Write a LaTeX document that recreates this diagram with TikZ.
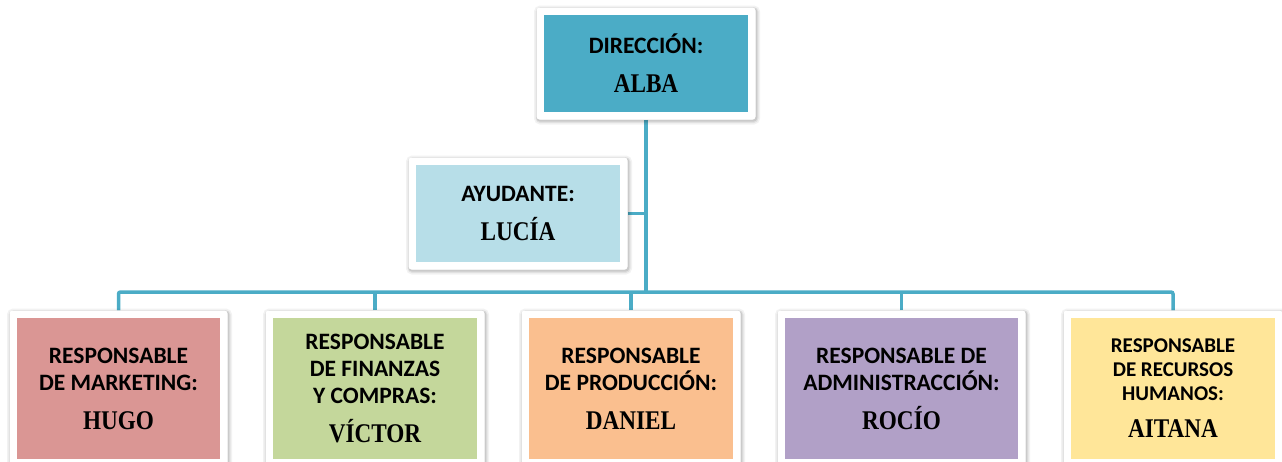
\documentclass[tikz,border=0pt]{standalone}
\usepackage{fontspec}
\setmainfont{Carlito}
\newfontfamily\namefam[FakeStretch=0.86]{Liberation Serif}
\usetikzlibrary{backgrounds}
\definecolor{cDir}{HTML}{4BACC6}
\definecolor{cAyu}{HTML}{B7DEE8}
\definecolor{cHugo}{HTML}{DA9694}
\definecolor{cVic}{HTML}{C4D79B}
\definecolor{cDan}{HTML}{FABF8F}
\definecolor{cRoc}{HTML}{B1A0C7}
\definecolor{cAit}{HTML}{FFE699}
\newcommand{\nm}[1]{{\namefam\bfseries\fontsize{27}{27}\selectfont #1}}
\tikzset{
  softshadow/.style={
    preaction={draw=black, draw opacity=0.05, line width=7pt,
      transform canvas={shift={(1pt,-1.5pt)}}},
    preaction={draw=black, draw opacity=0.07, line width=4pt,
      transform canvas={shift={(1pt,-1.5pt)}}},
    preaction={draw=black, draw opacity=0.10, line width=2pt,
      transform canvas={shift={(0.8pt,-1.2pt)}}}
  },
  orgbox/.style n args={3}{
    fill=white, rounded corners=3pt, softshadow,
    minimum width=#1+15pt, minimum height=#2+15pt, inner sep=0pt,
    align=center, text=black,
    font=\bfseries\fontsize{23.5}{27}\selectfont,
    path picture={\fill[#3, sharp corners]
      ([shift={(7.5pt,-7.5pt)}]path picture bounding box.north west) rectangle
      ([shift={(-7.5pt,7.5pt)}]path picture bounding box.south east);}
  },
  link/.style={draw=cDir, line width=3.5pt}
}
\begin{document}
\begin{tikzpicture}[x=1pt,y=-1pt]
\useasboundingbox (0,0) rectangle (1282,461);
\node[orgbox={204pt}{97pt}{cDir}] (dir) at (646,63.5) {DIRECCIÓN:\\[12pt]\nm{ALBA}};
\node[orgbox={204pt}{97pt}{cAyu}] (ayu) at (518,213.5) {AYUDANTE:\\[12pt]\nm{LUCÍA}};
\node[orgbox={203pt}{141pt}{cHugo}] (hugo) at (118.5,388.5) {RESPONSABLE\\DE MARKETING:\\[12pt]\nm{HUGO}};
\node[orgbox={204pt}{141pt}{cVic}] (vic) at (375,388.5) {RESPONSABLE\\DE FINANZAS\\Y COMPRAS:\\[12pt]\nm{VÍCTOR}};
\node[orgbox={204pt}{141pt}{cDan}] (dan) at (631,388.5) {RESPONSABLE\\DE PRODUCCIÓN:\\[12pt]\nm{DANIEL}};
\node[orgbox={233pt}{141pt}{cRoc}] (roc) at (901.5,388.5) {RESPONSABLE DE\\ADMINISTRACCIÓN:\\[12pt]\nm{ROCÍO}};
\node[orgbox={204pt}{141pt}{cAit}, font=\bfseries\fontsize{21}{24}\selectfont] (ait) at (1173,388.5) {RESPONSABLE\\DE RECURSOS\\HUMANOS:\\[13pt]\nm{AITANA}};
\coordinate (bus) at (646,292);
\begin{scope}[on background layer]
\draw[link] (dir.south) -- (bus);
\draw[link] (ayu.east) -- (ayu.east -| dir.south);
\draw[link, rounded corners=2pt] (hugo.north) |- (bus) -| (ait.north);
\draw[link] (vic.north) -- (vic.north |- bus);
\draw[link] (dan.north) -- (dan.north |- bus);
\draw[link] (roc.north) -- (roc.north |- bus);
\end{scope}
\end{tikzpicture}
\end{document}
